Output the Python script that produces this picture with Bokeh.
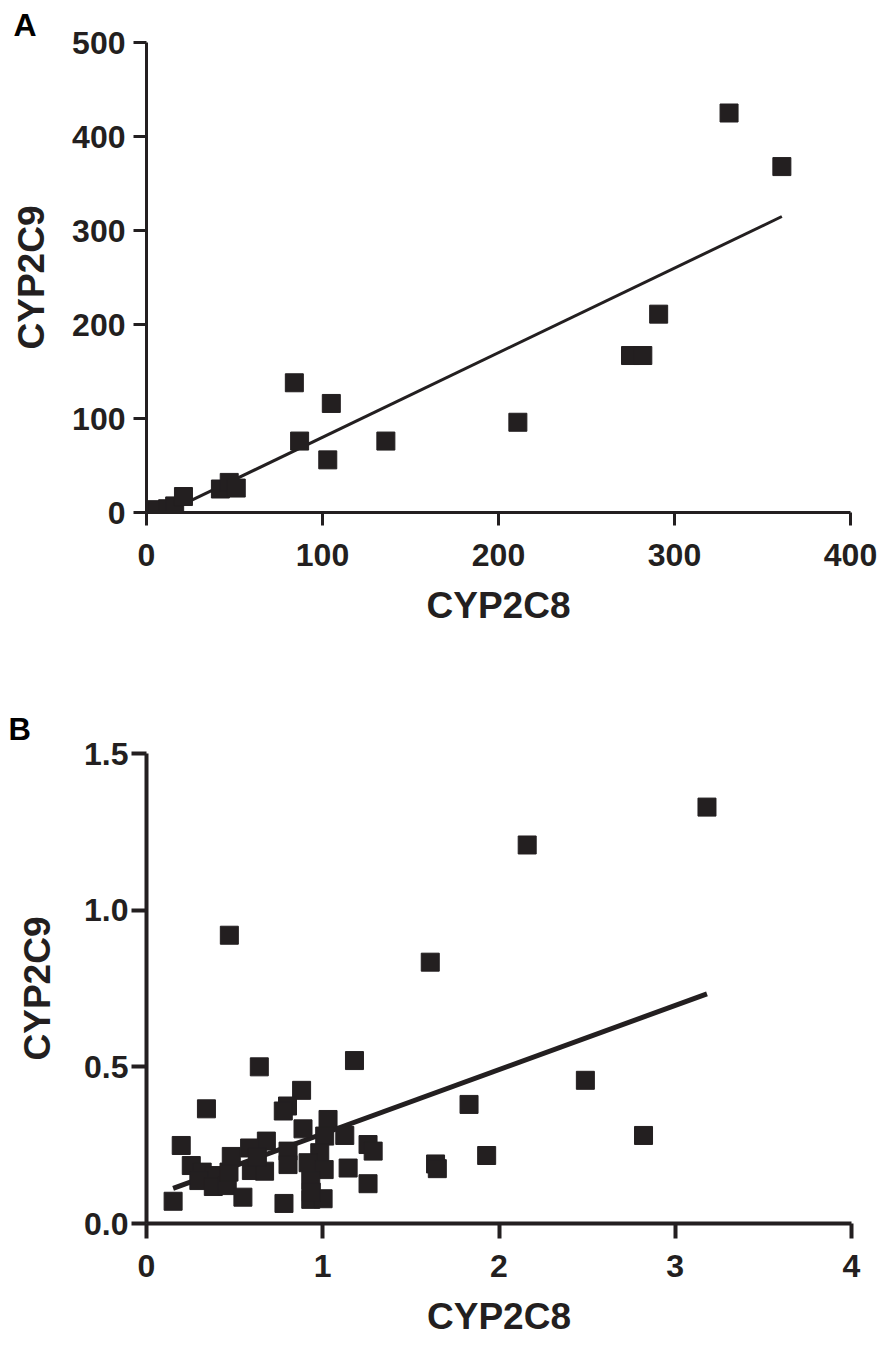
from bokeh.plotting import figure
from bokeh.models import Range1d, FixedTicker, NumeralTickFormatter
from bokeh.layouts import column
from bokeh.embed import file_html
from bokeh.resources import INLINE

# ---------------- data ----------------
# Panel A
a_x = [2, 6, 12, 16, 21, 42, 47, 51, 84, 87, 103, 105, 136, 211, 275, 282, 291, 331, 361]
a_y = [1, 3, 4, 7, 17, 25, 32, 26, 138, 76, 56, 116, 76, 96, 167, 167, 211, 425, 368]
a_fit_slope = 0.90
a_fit_intercept = -10.0
a_xticks = [0, 100, 200, 300, 400]
a_yticks = [0, 100, 200, 300, 400, 500]

# Panel B
b_x = [0.47, 1.61, 2.16, 3.18, 2.49, 2.82, 1.83, 1.93, 1.64, 1.65, 1.18, 0.64,
       0.34, 0.88, 0.80, 0.776, 0.197, 0.254, 0.316, 0.383, 0.297, 0.379, 0.458,
       0.468, 0.481, 0.547, 0.151, 0.68, 0.585, 0.595, 0.67, 0.629, 0.78, 0.888,
       1.03, 1.125, 1.257, 1.286, 1.144, 1.257, 0.932, 1.002, 0.803, 0.803, 1.011,
       0.983, 0.917, 1.008, 0.932, 0.935]
b_y = [0.92, 0.834, 1.208, 1.329, 0.457, 0.281, 0.38, 0.217, 0.19, 0.175, 0.52, 0.50,
       0.366, 0.425, 0.375, 0.359, 0.249, 0.185, 0.164, 0.153, 0.137, 0.118, 0.121,
       0.164, 0.214, 0.084, 0.071, 0.263, 0.241, 0.169, 0.167, 0.212, 0.064, 0.302,
       0.332, 0.281, 0.252, 0.231, 0.177, 0.127, 0.077, 0.079, 0.231, 0.188, 0.279,
       0.226, 0.194, 0.172, 0.137, 0.10]
b_fit_slope = 0.205
b_fit_intercept = 0.081
b_xticks = [0, 1, 2, 3, 4]
b_yticks = [0.0, 0.5, 1.0, 1.5]

panel_a_tag = "A"
panel_b_tag = "B"
x_label = "CYP2C8"
y_label = "CYP2C9"

INK = "#231f20"
FONT = "Liberation Sans"


def style(p, lw, tick_out, xstand, ystand, ylab_stand, title_size, title_offset,
          title_standoff):
    for ax in (p.xaxis[0], p.yaxis[0]):
        ax.axis_line_width = lw
        ax.axis_line_color = INK
        ax.major_tick_line_width = lw
        ax.major_tick_line_color = INK
        ax.major_tick_out = tick_out
        ax.major_tick_in = 0
        ax.minor_tick_line_color = None
        ax.major_label_text_font = FONT
        ax.major_label_text_font_size = "32px"
        ax.major_label_text_font_style = "bold"
        ax.major_label_text_color = INK
        ax.axis_label_text_font = FONT
        ax.axis_label_text_font_size = "37px"
        ax.axis_label_text_font_style = "bold"
        ax.axis_label_text_color = INK
    p.xaxis[0].major_label_standoff = xstand
    p.yaxis[0].major_label_standoff = ystand
    p.xaxis[0].axis_label_standoff = 16
    p.yaxis[0].axis_label_standoff = ylab_stand
    p.xaxis[0].axis_label = x_label
    p.yaxis[0].axis_label = y_label
    p.xgrid.grid_line_color = None
    p.ygrid.grid_line_color = None
    p.outline_line_color = None
    p.background_fill_color = "white"
    p.border_fill_color = "white"
    p.title.text_font = FONT
    p.title.text_font_size = title_size
    p.title.text_font_style = "bold"
    p.title.text_color = "black"
    p.title.align = "left"
    p.title.offset = title_offset
    p.title.standoff = title_standoff


# ---------------- panel A ----------------
pA = figure(width=880, height=662, output_backend="svg", toolbar_location=None,
            x_range=Range1d(a_xticks[0], a_xticks[-1]),
            y_range=Range1d(a_yticks[0], a_yticks[-1]),
            min_border_left=143, min_border_right=30, min_border_top=42,
            min_border_bottom=150, title=panel_a_tag)
style(pA, 3, 13, 18, 8, 17, "32px", -133, 0)
pA.xaxis[0].ticker = FixedTicker(ticks=a_xticks)
pA.yaxis[0].ticker = FixedTicker(ticks=a_yticks)

a_x0, a_x1 = min(a_x), max(a_x)
pA.line([a_x0, a_x1],
        [a_fit_intercept + a_fit_slope * a_x0, a_fit_intercept + a_fit_slope * a_x1],
        line_color=INK, line_width=3)
pA.scatter(a_x, a_y, marker="square", size=18, fill_color=INK, line_color=INK)

# ---------------- panel B ----------------
pB = figure(width=881, height=681, output_backend="svg", toolbar_location=None,
            x_range=Range1d(b_xticks[0], b_xticks[-1]),
            y_range=Range1d(b_yticks[0], b_yticks[-1]),
            min_border_left=146, min_border_right=30, min_border_top=91,
            min_border_bottom=120, title=panel_b_tag)
style(pB, 4, 15, 16, 3, 23, "31px", -138, 14)
pB.xaxis[0].ticker = FixedTicker(ticks=b_xticks)
pB.yaxis[0].ticker = FixedTicker(ticks=b_yticks)
pB.yaxis[0].formatter = NumeralTickFormatter(format="0.0")

b_x0, b_x1 = min(b_x), max(b_x)
pB.line([b_x0, b_x1],
        [b_fit_intercept + b_fit_slope * b_x0, b_fit_intercept + b_fit_slope * b_x1],
        line_color=INK, line_width=5)
pB.scatter(b_x, b_y, marker="square", size=18, fill_color=INK, line_color=INK)

layout = column(pA, pB)
open("out.html", "w").write(file_html(layout, INLINE))
